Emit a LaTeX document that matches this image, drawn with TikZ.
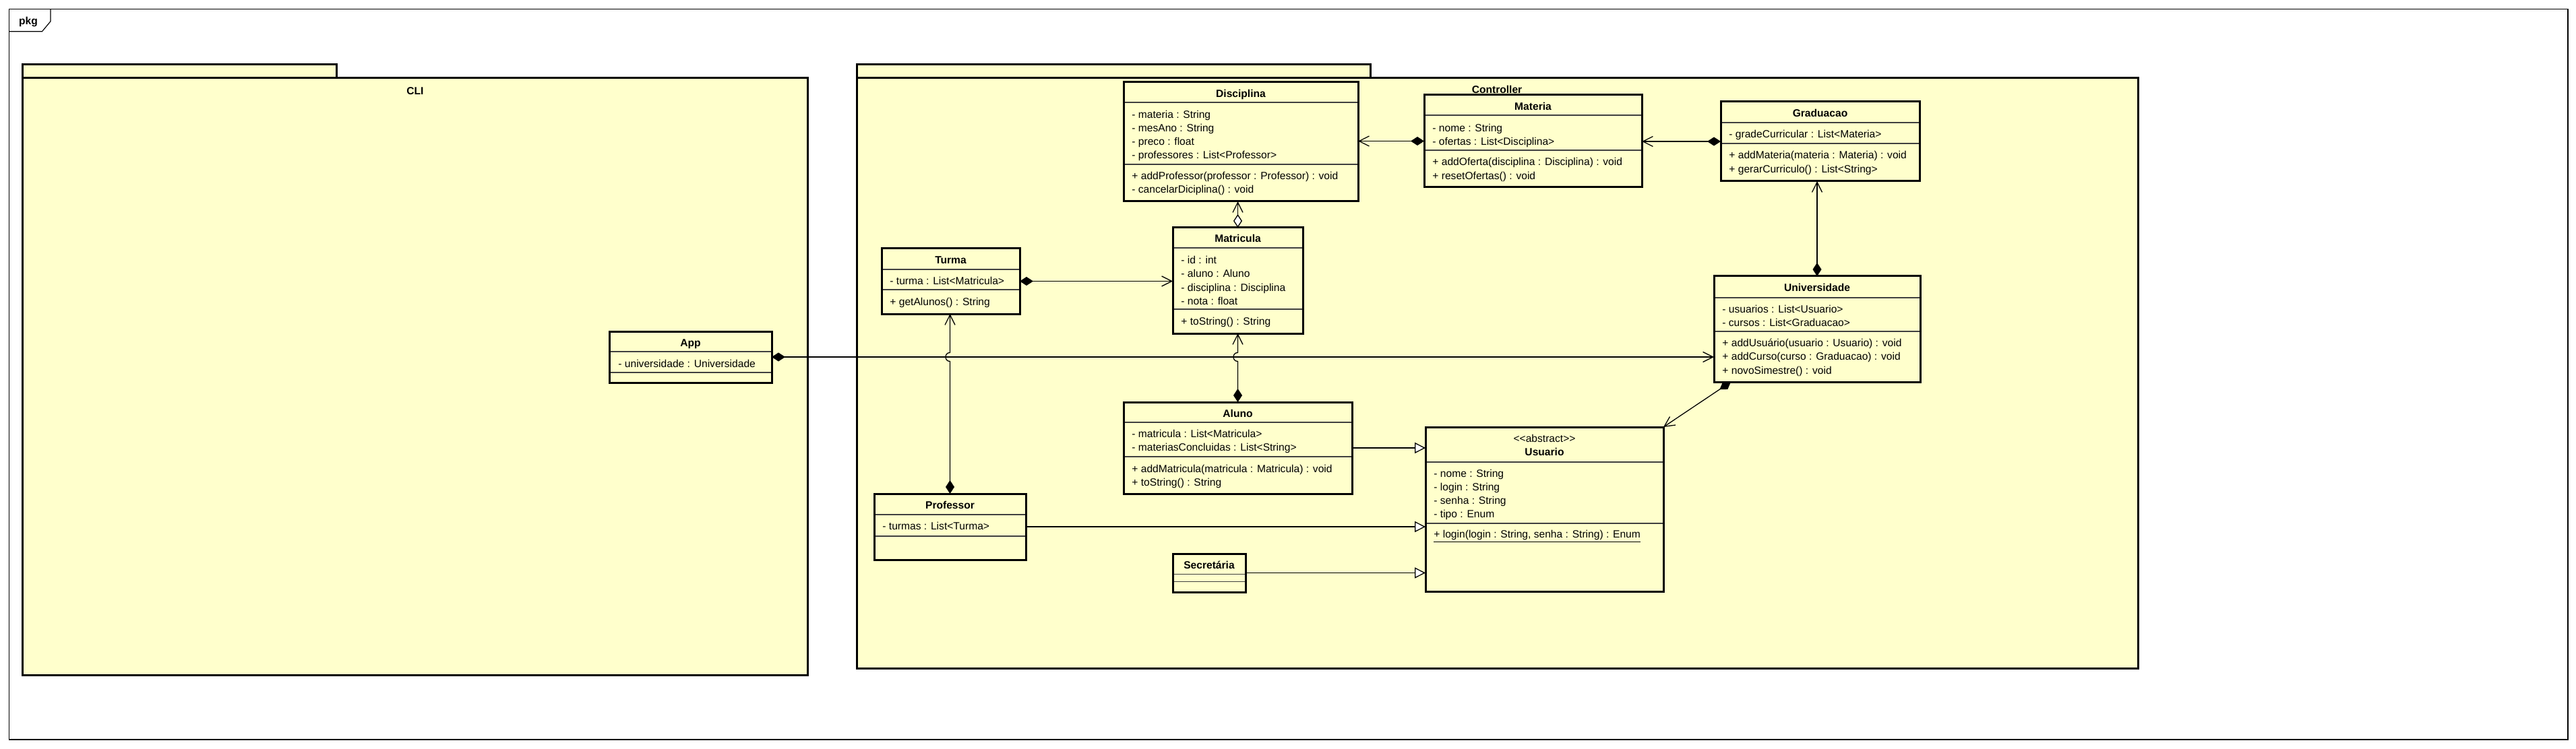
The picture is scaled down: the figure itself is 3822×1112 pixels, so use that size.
\documentclass[tikz,border=0pt]{standalone}
\usepackage{fontspec}
\newfontfamily\umlfont{Liberation Sans}
\usetikzlibrary{arrows.meta,calc}
\definecolor{umlyellow}{RGB}{255,255,204}
\newcommand{\umlclass}[7]{%
  \node[classbox, minimum width={(#4-#2)*0.5pt}, minimum height={(#5-#3)*0.5pt}] (#1) at (#2,#3) {};
  \draw[sepline] ({#2+1.5},#6) -- ({#4-1.5},#6);
  \draw[sepline] ({#2+1.5},#7) -- ({#4-1.5},#7);}
\newcommand{\umltxt}[4]{\node[attr] (#1) at (#2,#3) {#4};}
\begin{document}
\begin{tikzpicture}[x=0.5pt,y=-0.5pt,
  font=\umlfont\fontsize{7.8pt}{9pt}\selectfont,
  classbox/.style={draw=black, line width=1.5pt, fill=umlyellow, anchor=north west, inner sep=0pt, outer sep=0pt},
  sepline/.style={line width=0.6pt, draw=black!75},
  attr/.style={anchor=west, inner sep=0pt, text height=7.2pt, text depth=1.6pt},
  clstitle/.style={anchor=center, inner sep=0pt, font=\umlfont\bfseries\fontsize{7.8pt}{9pt}\selectfont, text height=7.2pt, text depth=1.6pt},
  pkglabel/.style={anchor=center, inner sep=0pt, font=\umlfont\bfseries\fontsize{7.8pt}{9pt}\selectfont, text height=7.2pt, text depth=1.6pt},
  pkgline/.style={line width=1.5pt, draw=black, fill=umlyellow},
  conn/.style={line width=0.65pt, draw=black},
  compo/.style={conn, arrows={Diamond[length=10pt,width=6.5pt]-Straight Barb[length=7.5pt,width=7.5pt]}},
  aggreg/.style={conn, arrows={Diamond[length=10pt,width=6.5pt,fill=white]-Straight Barb[length=7.5pt,width=7.5pt]}},
  gener/.style={conn, arrows={-Triangle[length=8pt,width=8pt,fill=white]}}
]
\useasboundingbox (0,0) rectangle (3822,1112);
\fill[white] (0,0) rectangle (3822,1112);

% frame
\draw[line width=0.6pt] (13.4,13.3) rectangle (3810,1098);
\draw[line width=0.6pt] (13.4,46.7) -- (62.5,46.7) -- (75,31.7) -- (75,13.3);
\node[pkglabel] (pkg) at (42,31) {pkg};

% packages
\filldraw[pkgline] (33,96) rectangle (499,116);
\filldraw[pkgline] (33,116) rectangle (1198.5,1002);
\node[pkglabel] (cli) at (616,135) {CLI};
\filldraw[pkgline] (1271,96) rectangle (2033,116);
\filldraw[pkgline] (1271,116) rectangle (3172,992);
\node[pkglabel] (controller) at (2221,133) {Controller};

% Disciplina
\umlclass{disc}{1667}{122}{2015}{299}{152}{244}
\node[clstitle] (disc-t) at (1841,139) {Disciplina};
\umltxt{disc-a1}{1679}{170}{- materia : String}
\umltxt{disc-a2}{1679}{190}{- mesAno : String}
\umltxt{disc-a3}{1679}{210}{- preco : float}
\umltxt{disc-a4}{1679}{230}{- professores : List<Professor>}
\umltxt{disc-m1}{1679}{261}{+ addProfessor(professor : Professor) : void}
\umltxt{disc-m2}{1679}{281}{- cancelarDiciplina() : void}

% Materia
\umlclass{materia}{2113}{141}{2436}{278}{171}{223}
\node[clstitle] (materia-t) at (2274.5,158) {Materia};
\umltxt{materia-a1}{2125}{190}{- nome : String}
\umltxt{materia-a2}{2125}{210}{- ofertas : List<Disciplina>}
\umltxt{materia-m1}{2125}{240}{+ addOferta(disciplina : Disciplina) : void}
\umltxt{materia-m2}{2125}{261}{+ resetOfertas() : void}

% Graduacao
\umlclass{grad}{2553}{151}{2848}{269}{182}{213}
\node[clstitle] (grad-t) at (2700.5,168) {Graduacao};
\umltxt{grad-a1}{2565}{199}{- gradeCurricular : List<Materia>}
\umltxt{grad-m1}{2565}{230}{+ addMateria(materia : Materia) : void}
\umltxt{grad-m2}{2565}{251}{+ gerarCurriculo() : List<String>}

% Matricula
\umlclass{matric}{1740}{338}{1933}{495}{368}{459}
\node[clstitle] (matric-t) at (1836.5,354) {Matricula};
\umltxt{matric-a1}{1752}{386}{- id : int}
\umltxt{matric-a2}{1752}{406}{- aluno : Aluno}
\umltxt{matric-a3}{1752}{427}{- disciplina : Disciplina}
\umltxt{matric-a4}{1752}{447}{- nota : float}
\umltxt{matric-m1}{1752}{477}{+ toString() : String}

% Turma
\umlclass{turma}{1308}{369}{1513}{466}{400}{430}
\node[clstitle] (turma-t) at (1410.5,386) {Turma};
\umltxt{turma-a1}{1320}{417}{- turma : List<Matricula>}
\umltxt{turma-m1}{1320}{448}{+ getAlunos() : String}

% Universidade
\umlclass{univ}{2543}{410}{2849}{567}{442}{492}
\node[clstitle] (univ-t) at (2696,427) {Universidade};
\umltxt{univ-a1}{2555}{459}{- usuarios : List<Usuario>}
\umltxt{univ-a2}{2555}{479}{- cursos : List<Graduacao>}
\umltxt{univ-m1}{2555}{509}{+ addUsuário(usuario : Usuario) : void}
\umltxt{univ-m2}{2555}{529}{+ addCurso(curso : Graduacao) : void}
\umltxt{univ-m3}{2555}{550}{+ novoSimestre() : void}

% App
\umlclass{app}{904}{492}{1145}{568}{522}{553}
\node[clstitle] (app-t) at (1024.5,509) {App};
\umltxt{app-a1}{917}{540}{- universidade : Universidade}

% Aluno
\umlclass{aluno}{1667}{597}{2006}{733}{627}{678}
\node[clstitle] (aluno-t) at (1836.5,614) {Aluno};
\umltxt{aluno-a1}{1679}{644}{- matricula : List<Matricula>}
\umltxt{aluno-a2}{1679}{664}{- materiasConcluidas : List<String>}
\umltxt{aluno-m1}{1679}{696}{+ addMatricula(matricula : Matricula) : void}
\umltxt{aluno-m2}{1679}{716}{+ toString() : String}

% Usuario
\umlclass{usuario}{2115}{634}{2468}{878}{686}{777}
\node[attr, anchor=center] (usuario-s) at (2291.5,651) {<\kern0pt<abstract>\kern0pt>};
\node[clstitle] (usuario-t) at (2291.5,671) {Usuario};
\umltxt{usuario-a1}{2127}{703}{- nome : String}
\umltxt{usuario-a2}{2127}{723}{- login : String}
\umltxt{usuario-a3}{2127}{743}{- senha : String}
\umltxt{usuario-a4}{2127}{763}{- tipo : Enum}
\umltxt{usuario-m1}{2127}{793}{\underline{+ login(login : String, senha : String) : Enum}}

% Professor
\umlclass{prof}{1297}{733}{1522}{831}{764}{796}
\node[clstitle] (prof-t) at (1409.5,750) {Professor};
\umltxt{prof-a1}{1309}{781}{- turmas : List<Turma>}

% Secretaria
\umlclass{secr}{1740}{822}{1848}{879}{852.5}{863.5}
\node[clstitle] (secr-t) at (1794,839) {Secretária};

% connectors
\draw[compo] (materia.west) -- (materia.west -| disc.east);
\draw[compo] (grad.west) -- (grad.west -| materia.east);
\draw[compo] (univ.north) -- (univ.north |- grad.south);
\draw[aggreg] (matric.north) -- (matric.north |- disc.south);
\draw[compo] (turma.east) -- (turma.east -| matric.west);
\draw[compo] (app.east) -- (app.east -| univ.west);
\path (prof.north |- app.east) coordinate (hopa);
\path (aluno.north |- app.east) coordinate (hopb);
\draw[compo] (prof.north) -- ($(hopa)+(0,6.5)$) .. controls +(-8.7,0) and +(-8.7,0) .. ($(hopa)+(0,-6.5)$) -- (prof.north |- turma.south);
\draw[compo] (aluno.north) -- ($(hopb)+(0,6.5)$) .. controls +(-8.7,0) and +(-8.7,0) .. ($(hopb)+(0,-6.5)$) -- (aluno.north |- matric.south);
\coordinate (univfoot) at ($(univ.south west)+(25,0)$);
\draw[compo] (univfoot) -- (usuario.north east);
\draw[gener] (aluno.east) -- (aluno.east -| usuario.west);
\draw[gener] (prof.east) -- (prof.east -| usuario.west);
\draw[gener] (secr.east) -- (secr.east -| usuario.west);
\end{tikzpicture}
\end{document}
